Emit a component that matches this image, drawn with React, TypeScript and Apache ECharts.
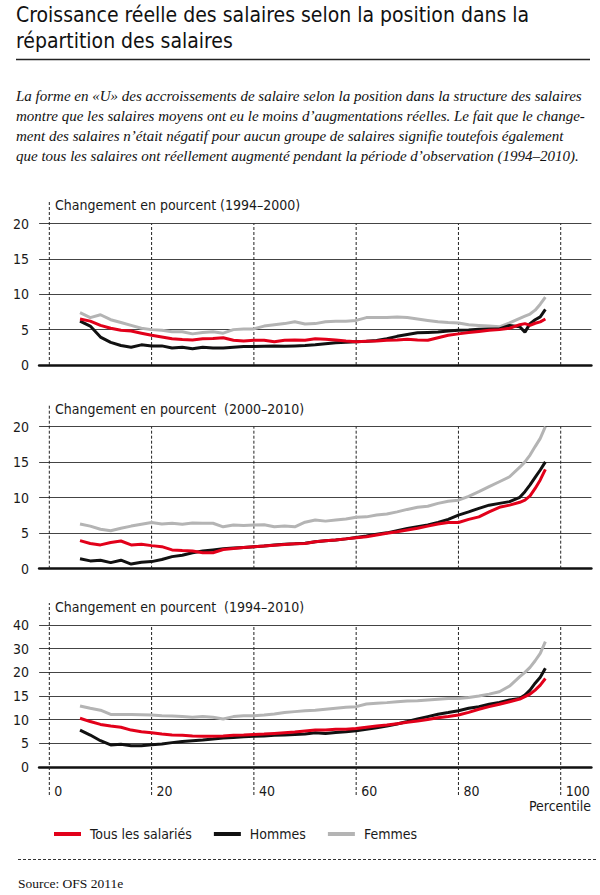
import React, { useEffect, useRef } from "react";
import * as echarts from "echarts";

// Percentiles at which the curves are read
const PERCENTILES = [6, 8, 10, 12, 14, 16, 18, 20, 22, 24, 26, 28, 30, 32, 34, 36, 38, 40, 42, 44, 46, 48, 50, 52, 54, 56, 58, 60, 62, 64, 66, 68, 70, 72, 74, 76, 78, 80, 82, 84, 86, 88, 90, 92, 93, 94, 95, 96, 97];

// Panel 1: 1994–2000
const p1Femmes = [7.4, 6.7, 7.1, 6.4, 6.0, 5.6, 5.2, 5.0, 4.9, 4.7, 4.7, 4.4, 4.6, 4.7, 4.5, 5.0, 5.1, 5.1, 5.5, 5.7, 5.85, 6.1, 5.8, 5.85, 6.1, 6.2, 6.2, 6.3, 6.7, 6.7, 6.7, 6.8, 6.7, 6.5, 6.3, 6.1, 6.0, 5.95, 5.7, 5.6, 5.5, 5.4, 5.95, 6.6, 6.9, 7.2, 7.75, 8.6, 9.6];
const p1Tous = [6.5, 6.2, 5.6, 5.2, 4.9, 4.8, 4.5, 4.2, 3.95, 3.7, 3.6, 3.55, 3.7, 3.75, 3.85, 3.5, 3.4, 3.5, 3.5, 3.3, 3.5, 3.55, 3.5, 3.7, 3.65, 3.55, 3.4, 3.3, 3.35, 3.4, 3.5, 3.55, 3.65, 3.55, 3.5, 3.85, 4.2, 4.4, 4.6, 4.75, 4.9, 5.0, 5.2, 5.7, 5.85, 5.6, 5.9, 6.1, 6.5];
const p1Hommes = [6.2, 5.5, 3.95, 3.2, 2.75, 2.5, 2.85, 2.7, 2.7, 2.4, 2.5, 2.3, 2.5, 2.4, 2.4, 2.5, 2.6, 2.6, 2.65, 2.7, 2.65, 2.7, 2.75, 2.85, 3.0, 3.15, 3.2, 3.3, 3.35, 3.45, 3.7, 4.05, 4.3, 4.55, 4.6, 4.65, 4.8, 4.9, 4.95, 5.05, 5.1, 5.1, 5.6, 5.4, 4.65, 5.85, 6.4, 6.8, 7.85];

// Panel 2: 2000–2010
const p2Femmes = [6.3, 6.0, 5.55, 5.35, 5.7, 6.0, 6.25, 6.5, 6.3, 6.4, 6.25, 6.45, 6.4, 6.4, 5.9, 6.15, 6.1, 6.15, 6.2, 5.9, 6.0, 5.9, 6.55, 6.85, 6.7, 6.85, 7.0, 7.25, 7.3, 7.55, 7.7, 8.0, 8.35, 8.65, 8.8, 9.2, 9.5, 9.65, 10.2, 10.85, 11.55, 12.25, 12.95, 14.3, 15.05, 16.0, 17.2, 18.35, 20.0];
const p2Tous = [3.95, 3.55, 3.35, 3.7, 3.9, 3.35, 3.45, 3.25, 3.1, 2.65, 2.55, 2.5, 2.25, 2.25, 2.7, 2.85, 3.0, 3.1, 3.2, 3.3, 3.4, 3.5, 3.55, 3.8, 3.95, 4.05, 4.2, 4.35, 4.5, 4.75, 5.0, 5.2, 5.45, 5.7, 6.0, 6.3, 6.5, 6.5, 6.95, 7.3, 8.0, 8.65, 8.95, 9.35, 9.65, 10.25, 11.3, 12.5, 14.0];
const p2Hommes = [1.4, 1.1, 1.2, 0.85, 1.2, 0.65, 0.9, 1.0, 1.3, 1.7, 1.9, 2.25, 2.5, 2.65, 2.8, 2.9, 3.0, 3.1, 3.2, 3.35, 3.45, 3.5, 3.6, 3.8, 3.95, 4.05, 4.2, 4.4, 4.6, 4.85, 5.05, 5.35, 5.65, 5.9, 6.15, 6.5, 6.95, 7.55, 8.0, 8.5, 8.95, 9.2, 9.45, 10.05, 10.85, 11.8, 12.85, 13.9, 15.05];

// Panel 3: 1994–2010
const p3Femmes = [12.9, 12.4, 12.0, 11.1, 11.1, 11.1, 11.05, 11.0, 10.85, 10.8, 10.65, 10.5, 10.65, 10.5, 10.15, 10.65, 10.85, 10.85, 11.0, 11.2, 11.5, 11.7, 11.9, 12.0, 12.2, 12.4, 12.6, 12.75, 13.3, 13.45, 13.6, 13.8, 13.95, 14.0, 14.15, 14.3, 14.45, 14.45, 14.7, 15.0, 15.4, 15.9, 17.1, 19.1, 20.0, 22.1, 24.9, 28.0, 33.0];
const p3Tous = [10.3, 9.6, 9.0, 8.65, 8.4, 7.8, 7.45, 7.25, 6.95, 6.75, 6.7, 6.55, 6.5, 6.5, 6.55, 6.7, 6.75, 6.85, 6.95, 7.1, 7.25, 7.4, 7.6, 7.8, 7.8, 7.95, 8.0, 8.15, 8.4, 8.65, 8.85, 9.15, 9.45, 9.7, 10.05, 10.4, 10.65, 11.0, 11.55, 12.2, 12.75, 13.25, 13.8, 14.35, 14.85, 15.4, 16.25, 17.3, 18.7];
const p3Hommes = [7.8, 6.75, 5.55, 4.65, 4.8, 4.5, 4.5, 4.7, 4.85, 5.15, 5.4, 5.55, 5.7, 5.9, 6.15, 6.25, 6.4, 6.5, 6.55, 6.7, 6.75, 6.85, 6.95, 7.25, 7.1, 7.3, 7.45, 7.65, 7.95, 8.3, 8.65, 9.1, 9.6, 10.15, 10.65, 11.15, 11.5, 11.9, 12.4, 12.75, 13.25, 13.65, 14.15, 14.5, 15.2, 16.25, 17.7, 18.95, 21.7];

const SERIES_NAMES = ["Tous les salariés", "Hommes", "Femmes"];
const X_TICKS = [0, 20, 40, 60, 80, 100];
const Y3_TICK_LABELS = ["0", "5", "10", "15", "20", "30", "40"];
const SUBTITLES = [
  "Changement en pourcent (1994–2000)",
  "Changement en pourcent  (2000–2010)",
  "Changement en pourcent  (1994–2010)",
];
const TITLE_LINES = [
  "Croissance réelle des salaires selon la position dans la",
  "répartition des salaires",
];
const LEAD_LINES = [
  "La forme en «U» des accroissements de salaire selon la position dans la structure des salaires",
  "montre que les salaires moyens ont eu le moins d’augmentations réelles. Le fait que le change-",
  "ment des salaires n’était négatif pour aucun groupe de salaires signifie toutefois également",
  "que tous les salaires ont réellement augmenté pendant la période d’observation (1994–2010).",
];
const SOURCE = "Source: OFS 2011e";

const COLORS = { tous: "#e2001a", hommes: "#111111", femmes: "#b4b4b4" };
const COND = "'Liberation Sans Narrow', 'DejaVu Sans Condensed', 'Arial Narrow', sans-serif";
const SERIF = "'Liberation Serif', 'DejaVu Serif', serif";

// third panel uses a broken scale: 0–20 in steps of 5, then 20–40 in steps of 10
const toLevel = (v: number) => (v <= 20 ? v / 5 : 4 + (v - 20) / 10);

const GRID_LEFT = 39.1;
const GRID_WIDTH = 552.3;
const GRIDS = [
  { top: 223.5, height: 141.5 },
  { top: 426.7, height: 142 },
  { top: 625, height: 142 },
];

function buildOption() {
  const panels = [
    { tous: p1Tous, hommes: p1Hommes, femmes: p1Femmes, yMax: 20, broken: false },
    { tous: p2Tous, hommes: p2Hommes, femmes: p2Femmes, yMax: 20, broken: false },
    { tous: p3Tous, hommes: p3Hommes, femmes: p3Femmes, yMax: 6, broken: true },
  ];

  const grid = GRIDS.map((g) => ({ left: GRID_LEFT, width: GRID_WIDTH, top: g.top, height: g.height }));

  const xAxis = panels.map((_, i) => ({
    type: "value",
    gridIndex: i,
    min: -2,
    max: 106,
    axisLine: { show: true, onZero: false, lineStyle: { color: "#111", width: 2.5 } },
    axisTick: { show: false },
    splitLine: { show: false },
    axisLabel:
      i === 2
        ? {
            show: true,
            customValues: X_TICKS,
            align: "left",
            margin: 17,
            padding: [0, 0, 0, 5],
            fontFamily: COND,
            fontSize: 14,
            color: "#1a1a1a",
          }
        : { show: false },
  }));

  const yAxis = panels.map((p, i) => ({
    type: "value",
    gridIndex: i,
    min: 0,
    max: p.yMax,
    interval: p.broken ? 1 : 5,
    axisLine: { show: false },
    axisTick: { show: false },
    splitLine: { show: true, lineStyle: { color: "#444", width: 1.2 } },
    axisLabel: {
      margin: 10,
      fontFamily: COND,
      fontSize: 14,
      color: "#1a1a1a",
      formatter: p.broken ? (v: number) => Y3_TICK_LABELS[Math.round(v)] : (v: number) => String(v),
    },
  }));

  const series: any[] = [];
  panels.forEach((p, i) => {
    const ext = i === 2 ? 28 : 0;
    series.push({
      type: "custom",
      xAxisIndex: i,
      yAxisIndex: i,
      silent: true,
      clip: false,
      z: 1,
      data: X_TICKS.map((x) => [x, 0]),
      renderItem: (params: any, api: any) => {
        const x = api.value(0);
        const bottom = api.coord([x, 0]);
        const top = api.coord([x, p.yMax]);
        return {
          type: "line",
          shape: { x1: bottom[0], y1: bottom[1] + ext, x2: bottom[0], y2: top[1] - (x === 0 ? 22 : 0) },
          style: { stroke: "#222", lineWidth: 1, lineDash: [3, 2] },
        };
      },
    });
    const mk = (name: string, vals: number[], color: string, z: number) => ({
      type: "line",
      name,
      xAxisIndex: i,
      yAxisIndex: i,
      symbol: "none",
      z,
      color,
      lineStyle: { width: 3, color },
      emphasis: { disabled: true },
      data: PERCENTILES.map((pc, k) => [pc, p.broken ? toLevel(vals[k]) : vals[k]]),
    });
    series.push(mk(SERIES_NAMES[2], p.femmes, COLORS.femmes, 3));
    series.push(mk(SERIES_NAMES[1], p.hommes, COLORS.hommes, 4));
    series.push(mk(SERIES_NAMES[0], p.tous, COLORS.tous, 5));
  });

  const subtitleY = [205, 409, 606.5];
  const graphic: any[] = [
    ...TITLE_LINES.map((t, k) => ({
      type: "text",
      x: 16,
      y: 15 + k * 26,
      style: { text: t, fill: "#111", font: `21px ${COND}`, align: "left", verticalAlign: "middle", textAlign: "left", textVerticalAlign: "middle" },
    })),
    { type: "line", shape: { x1: 16, y1: 59.5, x2: 590, y2: 59.5 }, style: { stroke: "#222", lineWidth: 1.3 } },
    ...LEAD_LINES.map((t, k) => ({
      type: "text",
      x: 16,
      y: 96 + k * 20,
      style: { text: t, fill: "#111", font: `italic 15px ${SERIF}`, align: "left", verticalAlign: "middle", textAlign: "left", textVerticalAlign: "middle" },
    })),
    ...SUBTITLES.map((t, k) => ({
      type: "text",
      x: 55,
      y: subtitleY[k],
      style: { text: t, fill: "#1a1a1a", font: `14px ${COND}`, align: "left", verticalAlign: "middle", textAlign: "left", textVerticalAlign: "middle" },
    })),
    {
      type: "text",
      x: 591,
      y: 806,
      style: { text: "Percentile", fill: "#1a1a1a", font: `14px ${COND}`, align: "right", verticalAlign: "middle", textAlign: "right", textVerticalAlign: "middle" },
    },
    { type: "line", shape: { x1: 18, y1: 859.5, x2: 597, y2: 859.5 }, style: { stroke: "#333", lineWidth: 1, lineDash: [3, 2] } },
    {
      type: "text",
      x: 18,
      y: 883,
      style: { text: SOURCE, fill: "#111", font: `13.5px ${SERIF}`, align: "left", verticalAlign: "middle", textAlign: "left", textVerticalAlign: "middle" },
    },
  ];

  return {
    animation: false,
    backgroundColor: "#fff",
    grid,
    xAxis,
    yAxis,
    legend: {
      data: SERIES_NAMES,
      left: 49,
      top: 822,
      icon: "rect",
      itemWidth: 27,
      itemHeight: 4,
      itemGap: 22,
      selectedMode: false,
      textStyle: { fontFamily: COND, fontSize: 14, color: "#1a1a1a", padding: [0, 0, 0, 4] },
    },
    graphic,
    series,
  };
}

export default function App() {
  const ref = useRef<HTMLDivElement>(null);
  useEffect(() => {
    if (!ref.current) return;
    const chart = echarts.init(ref.current, null, { renderer: "svg" });
    chart.setOption(buildOption() as any);
    return () => chart.dispose();
  }, []);
  return (
    <div
      ref={ref}
      style={{ position: "absolute", left: 0, top: 0, width: 600, height: 895, background: "#fff" }}
    />
  );
}
